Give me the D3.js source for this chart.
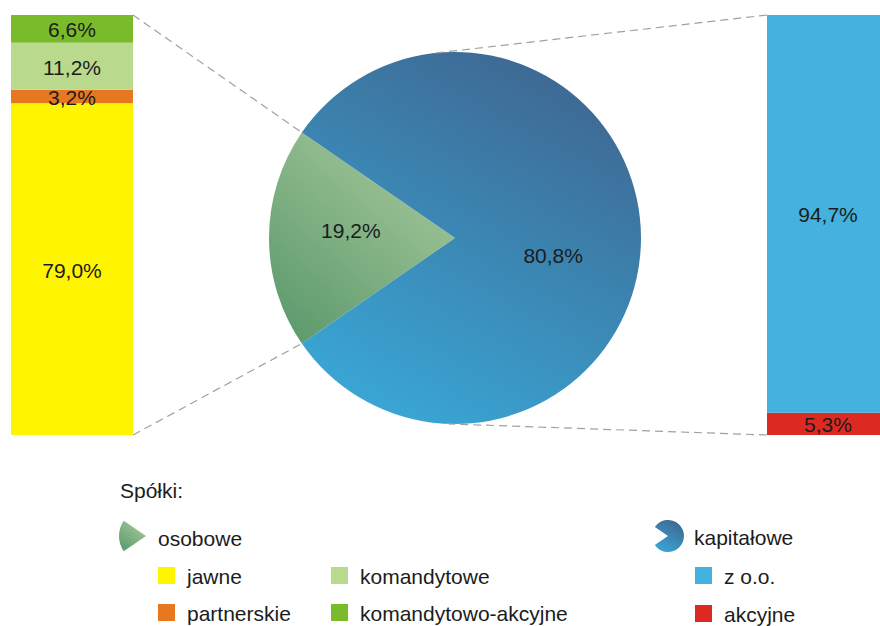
<!DOCTYPE html>
<html>
<head>
<meta charset="utf-8">
<script src="https://cdn.jsdelivr.net/npm/d3@7"></script>
<style>
body { margin: 0; background: #fff; }
svg { display: block; font-family: 'Liberation Sans', Arial, sans-serif; }
text { fill: #1c1c1c; }
</style>
</head>
<body>
<div class="container"></div>
<script>
const mainCategories = ['osobowe', 'kapitałowe'];
const mainValues = [19.2, 80.8];
const mainLabels = ['19,2%', '80,8%'];

// stacked bottom -> top
const osoboweCategories = ['jawne', 'partnerskie', 'komandytowe', 'komandytowo-akcyjne'];
const osoboweValues = [79.0, 3.2, 11.2, 6.6];
const osoboweLabels = ['79,0%', '3,2%', '11,2%', '6,6%'];

const kapitaloweCategories = ['akcyjne', 'z o.o.'];
const kapitaloweValues = [5.3, 94.7];
const kapitaloweLabels = ['5,3%', '94,7%'];

const width = 880;
const height = 626;
const fontSize = 21;

const colors = {
    'jawne': '#fff500',
    'partnerskie': '#e8781f',
    'komandytowe': '#b9d98d',
    'komandytowo-akcyjne': '#79bb2b',
    'z o.o.': '#45b1de',
    'akcyjne': '#dc2a22',
};

const svg = d3.select('.container')
    .append('svg')
    .attr('width', width)
    .attr('height', height);

const defs = svg.append('defs');
// gradients in objectBoundingBox units, so they follow each shape
function gradient(id, x1, y1, x2, y2, c1, c2) {
    const g = defs.append('linearGradient')
        .attr('id', id)
        .attr('x1', x1).attr('y1', y1).attr('x2', x2).attr('y2', y2);
    g.append('stop').attr('offset', 0).attr('stop-color', c1);
    g.append('stop').attr('offset', 1).attr('stop-color', c2);
}
gradient('gOso', 0.85, 0, 0.1, 1, '#a9ca9c', '#5a996c');
gradient('gKap', 0.75, 0, 0.25, 1, '#3e6690', '#39a7d6');
const pieFills = ['url(#gOso)', 'url(#gKap)'];

// pie
const cx = 455, cy = 238, r = 186;
const span = mainValues[0] / d3.sum(mainValues) * 2 * Math.PI;
const a0 = 1.5 * Math.PI - span / 2;
const pie = d3.pie().sort(null).startAngle(a0).endAngle(a0 + 2 * Math.PI);
const arc = d3.arc().innerRadius(0).outerRadius(r);
const labelArc = d3.arc().innerRadius(0).outerRadius(r * 1.12);
const arcs = pie(mainValues);

const pieG = svg.append('g').attr('transform', `translate(${cx},${cy})`);
pieG.selectAll('path')
    .data(arcs)
    .enter()
    .append('path')
    .attr('d', arc)
    .attr('fill', (d, i) => pieFills[i]);

pieG.selectAll('text')
    .data(arcs)
    .enter()
    .append('text')
    .attr('x', (d, i) => labelArc.centroid(d)[0] + (i === 1 ? -6 : 0))
    .attr('y', (d, i) => labelArc.centroid(d)[1] + (i === 1 ? 17 : -8))
    .attr('text-anchor', 'middle')
    .attr('dominant-baseline', 'central')
    .attr('font-size', fontSize)
    .text((d, i) => mainLabels[i]);

// stacked bars
const yscale = d3.scaleLinear().domain([0, 100]).range([435, 15]);
const barW = 122;

function stackBar(x, cats, vals, labels) {
    const tops = d3.cumsum(vals);
    const segs = cats.map((c, i) => ({
        cat: c, label: labels[i], y0: tops[i] - vals[i], y1: tops[i],
    }));
    const g = svg.append('g');
    g.selectAll('rect')
        .data(segs)
        .enter()
        .append('rect')
        .attr('x', x)
        .attr('width', barW)
        .attr('y', d => yscale(d.y1))
        .attr('height', d => yscale(d.y0) - yscale(d.y1))
        .attr('fill', d => colors[d.cat]);
    g.selectAll('text')
        .data(segs)
        .enter()
        .append('text')
        .attr('x', x + barW / 2)
        .attr('y', d => (yscale(d.y0) + yscale(d.y1)) / 2 + 1)
        .attr('text-anchor', 'middle')
        .attr('dominant-baseline', 'central')
        .attr('font-size', fontSize)
        .text(d => d.label);
}
stackBar(11, osoboweCategories, osoboweValues, osoboweLabels);
stackBar(767, kapitaloweCategories, kapitaloweValues, kapitaloweLabels);

// connector lines
function arcPoint(a) {
    return [cx + r * Math.sin(a), cy - r * Math.cos(a)];
}
function tangentPoint(px, py, side) {
    const dx = px - cx, dy = py - cy;
    const d = Math.hypot(dx, dy);
    const t = Math.atan2(dy, dx) + side * Math.acos(r / d);
    return [cx + r * Math.cos(t), cy + r * Math.sin(t)];
}
const lines = [
    [[11 + barW, yscale(100)], arcPoint(arcs[0].endAngle)],
    [[11 + barW, yscale(0)], arcPoint(arcs[0].startAngle)],
    [[767, yscale(100)], tangentPoint(767, yscale(100), -1)],
    [[767, yscale(0)], tangentPoint(767, yscale(0), 1)],
];
svg.selectAll('.conn')
    .data(lines)
    .enter()
    .append('line')
    .attr('class', 'conn')
    .attr('x1', d => d[0][0]).attr('y1', d => d[0][1])
    .attr('x2', d => d[1][0]).attr('y2', d => d[1][1])
    .attr('stroke', '#a0a0a0')
    .attr('stroke-width', 1.2)
    .attr('stroke-dasharray', '8,5');

// legend
const legend = svg.append('g').attr('font-size', fontSize);
legend.append('text').attr('x', 120).attr('y', 498).text('Spółki:');

const iconArc = d3.arc().innerRadius(0);
legend.append('path')
    .attr('transform', 'translate(146,536)')
    .attr('d', iconArc.outerRadius(27)(arcs[0]))
    .attr('fill', pieFills[0]);
legend.append('path')
    .attr('transform', 'translate(668,536)')
    .attr('d', iconArc.outerRadius(16)(arcs[1]))
    .attr('fill', pieFills[1]);

legend.append('text').attr('x', 158).attr('y', 538).attr('dominant-baseline', 'central').text(mainCategories[0]);
legend.append('text').attr('x', 694).attr('y', 537).attr('dominant-baseline', 'central').text(mainCategories[1]);

const legendItems = [
    { cat: 'jawne', x: 158, y: 567 },
    { cat: 'partnerskie', x: 158, y: 604 },
    { cat: 'komandytowe', x: 331, y: 567 },
    { cat: 'komandytowo-akcyjne', x: 331, y: 604 },
    { cat: 'z o.o.', x: 695, y: 567 },
    { cat: 'akcyjne', x: 695, y: 605 },
];
const items = legend.selectAll('.item')
    .data(legendItems)
    .enter()
    .append('g')
    .attr('class', 'item');
items.append('rect')
    .attr('x', d => d.x).attr('y', d => d.y)
    .attr('width', 17).attr('height', 17)
    .attr('fill', d => colors[d.cat]);
items.append('text')
    .attr('x', d => d.x + 29)
    .attr('y', d => d.y + 9)
    .attr('dominant-baseline', 'central')
    .text(d => d.cat);
</script>
</body>
</html>
